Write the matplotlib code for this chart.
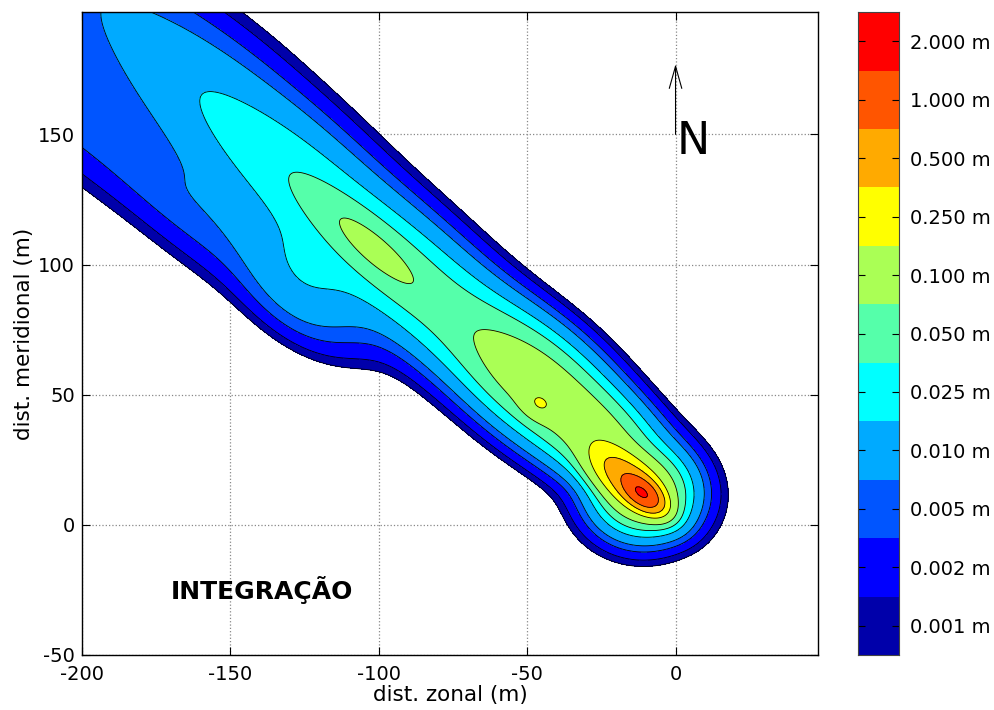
import numpy as np
import matplotlib
matplotlib.use('Agg')
import matplotlib.pyplot as plt
from matplotlib.colors import ListedColormap

plt.rcParams['font.family'] = ['DejaVu Sans']
plt.rcParams['axes.unicode_minus'] = False

# thickness classes (m) and their fill colours
levels = [0.001, 0.002, 0.005, 0.010, 0.025, 0.050, 0.100, 0.250, 0.500, 1.000, 2.000]
colors = ['#0000aa', '#0000ff', '#0055ff', '#00aaff', '#00ffff', '#55ffaa',
          '#aaff55', '#ffff00', '#ffaa00', '#ff5500', '#ff0000']

# release point and mean transport direction (deg from east)
src_x, src_y = -11.0, 12.0
track_dir = 134.0

# integrated puffs in track coordinates:
# s = distance along track, n = offset across track (positive to the left),
# a / b = along / across spread, q = peak thickness
puff_s = [0, 0, 0, 9,
          25, 55, 49, 85, 120, 133, 165, 210, 260, 320,
          140, 135, 185, 245, 305]
puff_n = [0, 0, 0, 0,
          -5, -4, 1.5, -2, -1, 0, 0, 0, 0, 0,
          22, 33, 32, 37, 40]
puff_a = [5, 8, 13, 9,
          15, 18, 4, 20, 22, 17, 25, 28, 30, 30,
          18, 14, 28, 30, 30]
puff_b = [2.8, 8, 13, 4.5,
          8, 9.3, 3, 10, 10.5, 5, 11.5, 13, 12.5, 13,
          8, 7, 9, 10, 10]
puff_q = [1.6, 0.18, 0.006, 0.62,
          0.12, 0.15, 0.11, 0.045, 0.05, 0.065, 0.035, 0.018, 0.006, 0.004,
          0.018, 0.008, 0.0075, 0.0055, 0.005]

x = np.arange(-200, 48.5, 0.5)
y = np.arange(-50, 197.5, 0.5)
X, Y = np.meshgrid(x, y)

th = np.deg2rad(track_dir)
S = (X - src_x) * np.cos(th) + (Y - src_y) * np.sin(th)
N = -(X - src_x) * np.sin(th) + (Y - src_y) * np.cos(th)

Z = np.zeros_like(X)
for s0, n0, a, b, q in zip(puff_s, puff_n, puff_a, puff_b, puff_q):
    Z += q * np.exp(-0.5 * (((S - s0) / a) ** 2 + ((N - n0) / b) ** 2))

fig = plt.figure(figsize=(9.95, 7.10), dpi=100)
ax = fig.add_axes([0.0824, 0.0775, 0.7397, 0.9055])

ax.contourf(X, Y, Z, levels=levels + [Z.max() + 1], colors=colors)
ax.contour(X, Y, Z, levels=levels, colors='black', linewidths=0.6)

ax.set_xlim(-200, 48)
ax.set_ylim(-50, 197)
ax.set_xticks([-200, -150, -100, -50, 0])
ax.set_yticks([-50, 0, 50, 100, 150])
ax.set_axisbelow(True)
ax.grid(True, linestyle=':', color='#888888', linewidth=0.9)
ax.tick_params(direction='in', top=True, right=True, length=6, labelsize=14)
ax.tick_params(axis='x', pad=7)
ax.tick_params(axis='y', pad=5)
for sp in ax.spines.values():
    sp.set_linewidth(1.0)
ax.set_xlabel('dist. zonal (m)', fontsize=15.5, labelpad=1)
ax.set_ylabel('dist. meridional (m)', fontsize=15.5, labelpad=3)

ax.text(-170, -25, 'INTEGRAÇÃO', fontsize=18, fontweight='bold', va='center')

# north arrow
ax.annotate('', xy=(0, 177), xytext=(0, 150),
            arrowprops=dict(arrowstyle='->,head_length=1.6,head_width=0.45',
                            color='black', lw=0.8, shrinkA=0, shrinkB=0,
                            mutation_scale=10))
ax.text(0.3, 142.3, 'N', fontsize=32, va='baseline', ha='left')

# colour key, one box per class
cax = fig.add_axes([0.8623, 0.0775, 0.0412, 0.9055])
cax.pcolormesh([0, 1], np.arange(len(levels) + 1),
               np.arange(len(levels)).reshape(-1, 1),
               cmap=ListedColormap(colors), vmin=-0.5, vmax=len(levels) - 0.5)
cax.set_xlim(0, 1)
cax.set_ylim(0, len(levels))
cax.set_xticks([])
cax.set_yticks(np.arange(len(levels)) + 0.5)
cax.set_yticklabels([f'{v:.3f} m' for v in levels])
cax.tick_params(axis='y', direction='in', left=True, right=True,
                labelleft=False, labelright=True, length=5, labelsize=14, pad=8)
for sp in cax.spines.values():
    sp.set_color('#444444')

fig.savefig('out.png', dpi=100)
